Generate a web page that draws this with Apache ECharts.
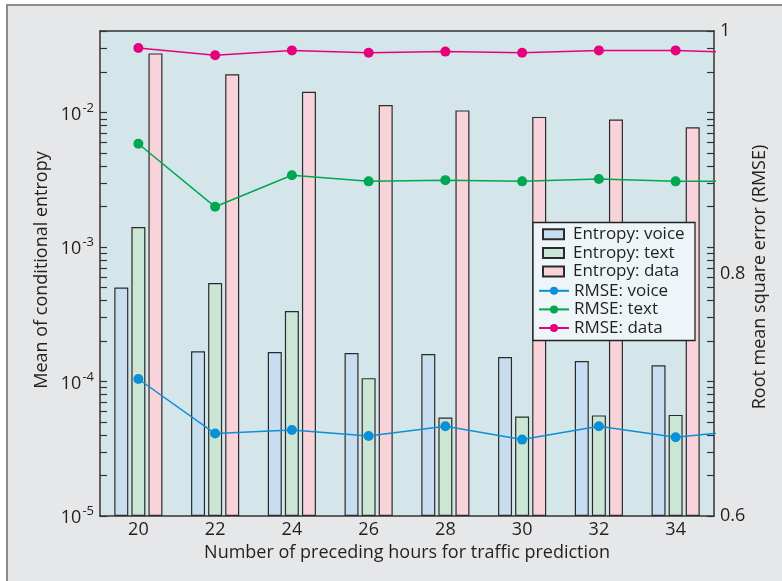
<!DOCTYPE html>
<html>
<head>
<meta charset="utf-8">
<script src="https://cdn.jsdelivr.net/npm/echarts@6/dist/echarts.min.js"></script>
<style>
html,body{margin:0;padding:0;background:#ffffff;}
#frame{position:absolute;left:6px;top:4px;width:800px;height:600px;background:#e6e7e8;border-left:2px solid #8c8c8c;border-top:2px solid #8c8c8c;}
#chart{position:absolute;left:0;top:0;width:782px;height:581px;}
</style>
</head>
<body>
<div id="frame"></div>
<div id="chart"></div>
<script>
// ---- data ----
const categories = ['20', '22', '24', '26', '28', '30', '32', '34'];
const lineX = [20, 22, 24, 26, 28, 30, 32, 34, 36];
const entropyVoice = [5.0e-4, 1.68e-4, 1.66e-4, 1.63e-4, 1.60e-4, 1.52e-4, 1.42e-4, 1.32e-4];
const entropyText = [1.41e-3, 5.4e-4, 3.35e-4, 1.06e-4, 5.4e-5, 5.5e-5, 5.6e-5, 5.65e-5];
const entropyData = [0.0276, 0.0193, 0.0143, 0.0114, 0.0104, 0.0093, 0.0089, 0.0078];
const rmseVoice = [0.713, 0.668, 0.671, 0.666, 0.674, 0.663, 0.674, 0.665, 0.671];
const rmseText = [0.907, 0.855, 0.881, 0.876, 0.877, 0.876, 0.878, 0.876, 0.876];
const rmseData = [0.986, 0.980, 0.984, 0.982, 0.983, 0.982, 0.984, 0.984, 0.982];
const leftLabelExponents = [-5, -4, -3, -2];
const rightTickLabels = [0.6, 0.8, 1];
const leftMin = 1e-5, leftMax = 0.0405;

// log tick mark positions (in log10 space)
const logTicks = [];
leftLabelExponents.forEach(function (e) {
  for (let k = 1; k <= 9; k++) {
    const v = k * Math.pow(10, e);
    if (v <= leftMax) logTicks.push(Math.log10(v));
  }
});

const FONT = '"Open Sans", "Noto Sans", sans-serif';
const TXT = '#231f20';
const AX = '#333333';

const chart = echarts.init(document.getElementById('chart'));
const pair = (xs, ys) => xs.map((x, i) => [x, ys[i]]);

const option = {
  backgroundColor: 'transparent',
  animation: false,
  textStyle: { fontFamily: FONT, color: TXT },
  grid: { left: 100, right: 68, top: 31, bottom: 65, show: true, backgroundColor: '#d5e6ea', borderWidth: 0 },
  xAxis: [
    {
      type: 'category', data: categories, position: 'bottom',
      axisLine: { lineStyle: { color: AX, width: 1.5 } },
      axisTick: { inside: true, alignWithLabel: true, length: 6, lineStyle: { color: AX, width: 1.2 } },
      axisLabel: { fontSize: 18, color: TXT, margin: 5, fontFamily: FONT }
    },
    {
      type: 'category', data: categories, position: 'top',
      axisLine: { lineStyle: { color: AX, width: 1.5 } },
      axisTick: { inside: true, alignWithLabel: true, length: 6, lineStyle: { color: AX, width: 1.2 } },
      axisLabel: { show: false }
    },
    { type: 'value', min: 19, max: 35, show: false }
  ],
  yAxis: [
    {
      type: 'log', logBase: 10, min: leftMin, max: leftMax, startValue: leftMin, position: 'left',
      axisLine: { show: true, lineStyle: { color: AX, width: 1.5 } },
      axisTick: { show: false },
      splitLine: { show: false },
      axisLabel: {
        margin: 6, color: TXT,
        formatter: function (v) {
          const e = Math.round(Math.log10(v));
          if (Math.abs(Math.log10(v) - e) > 1e-6 || leftLabelExponents.indexOf(e) < 0) return '';
          return '{b|10}{s|' + e + '}';
        },
        rich: {
          b: { fontSize: 18, fontFamily: FONT, color: TXT, lineHeight: 22, verticalAlign: 'bottom' },
          s: { fontSize: 13, fontFamily: FONT, color: TXT, lineHeight: 22, verticalAlign: 'top', padding: [0, 0, 10, 1] }
        }
      }
    },
    {
      type: 'value', min: 0.6, max: 1, interval: 0.2, position: 'right',
      axisLine: { show: true, lineStyle: { color: AX, width: 1.5 } },
      axisTick: { show: false },
      splitLine: { show: false },
      axisLabel: {
        fontSize: 18, color: TXT, margin: 6, fontFamily: FONT,
        formatter: function (v) {
          for (const t of rightTickLabels) if (Math.abs(v - t) < 1e-6) return t === 1 ? '1' : t.toFixed(1);
          return '';
        }
      }
    },
    {
      type: 'value', min: -5, max: Math.log10(leftMax), position: 'left',
      axisLine: { show: false }, splitLine: { show: false }, axisLabel: { show: false },
      axisTick: { show: true, inside: true, length: 7, customValues: logTicks, lineStyle: { color: AX, width: 1.2 } }
    },
    {
      type: 'value', min: -5, max: Math.log10(leftMax), position: 'right',
      axisLine: { show: false }, splitLine: { show: false }, axisLabel: { show: false },
      axisTick: { show: true, inside: true, length: 7, customValues: logTicks, lineStyle: { color: AX, width: 1.2 } }
    }
  ],
  legend: [
    {
      data: ['Entropy: voice', 'Entropy: text', 'Entropy: data'],
      icon: 'rect',
      orient: 'vertical', left: 542, top: 225, itemWidth: 21, itemHeight: 10, itemGap: 0, padding: 0,
      textStyle: { fontSize: 17, color: TXT, fontFamily: FONT, lineHeight: 18.6, padding: [0, 0, 0, 4] },
      z: 6
    },
    {
      data: ['RMSE: voice', 'RMSE: text', 'RMSE: data'],
      orient: 'vertical', left: 538, top: 281.5, itemWidth: 30, itemHeight: 10, itemGap: 0, padding: 0,
      textStyle: { fontSize: 17, color: TXT, fontFamily: FONT, lineHeight: 18.6 },
      z: 6
    }
  ],
  graphic: [
    {
      type: 'rect', z: 5, silent: true,
      shape: { x: 533, y: 222.5, width: 162, height: 118 },
      style: { fill: '#eef5f8', stroke: '#222222', lineWidth: 1.3 }
    },
    {
      type: 'text', z: 5, x: 407, y: 553,
      style: { text: 'Number of preceding hours for traffic prediction', fontSize: 18, fontFamily: FONT, fill: TXT, textAlign: 'center', textVerticalAlign: 'middle' }
    },
    {
      type: 'text', z: 5, x: 42, y: 270, rotation: Math.PI / 2,
      style: { text: 'Mean of conditional entropy', fontSize: 18, fontFamily: FONT, fill: TXT, textAlign: 'center', textVerticalAlign: 'middle' }
    },
    {
      type: 'text', z: 5, x: 760, y: 277, rotation: Math.PI / 2,
      style: { text: 'Root mean square error (RMSE)', fontSize: 18, fontFamily: FONT, fill: TXT, textAlign: 'center', textVerticalAlign: 'middle' }
    }
  ],
  series: [
    {
      name: 'Entropy: voice', type: 'bar', xAxisIndex: 0, yAxisIndex: 0, data: entropyVoice,
      barWidth: 14, barGap: '22%', z: 2,
      itemStyle: { color: '#c8def0', borderColor: '#2b2b2b', borderWidth: 1.2 }
    },
    {
      name: 'Entropy: text', type: 'bar', xAxisIndex: 0, yAxisIndex: 0, data: entropyText,
      barWidth: 14, barGap: '22%', z: 2,
      itemStyle: { color: '#cce6d5', borderColor: '#2b2b2b', borderWidth: 1.2 }
    },
    {
      name: 'Entropy: data', type: 'bar', xAxisIndex: 0, yAxisIndex: 0, data: entropyData,
      barWidth: 14, barGap: '22%', z: 2,
      itemStyle: { color: '#f8d3da', borderColor: '#2b2b2b', borderWidth: 1.2 }
    },
    {
      name: 'RMSE: voice', type: 'line', xAxisIndex: 2, yAxisIndex: 1, data: pair(lineX, rmseVoice),
      symbol: 'circle', symbolSize: 10, clip: true, z: 7,
      itemStyle: { color: '#0b8fd8' }, lineStyle: { color: '#0b8fd8', width: 1.5 }
    },
    {
      name: 'RMSE: text', type: 'line', xAxisIndex: 2, yAxisIndex: 1, data: pair(lineX, rmseText),
      symbol: 'circle', symbolSize: 10, clip: true, z: 7,
      itemStyle: { color: '#00a650' }, lineStyle: { color: '#00a650', width: 1.5 }
    },
    {
      name: 'RMSE: data', type: 'line', xAxisIndex: 2, yAxisIndex: 1, data: pair(lineX, rmseData),
      symbol: 'circle', symbolSize: 10, clip: true, z: 7,
      itemStyle: { color: '#e6007e' }, lineStyle: { color: '#e6007e', width: 1.5 }
    }
  ]
};
chart.setOption(option);
</script>
</body>
</html>
